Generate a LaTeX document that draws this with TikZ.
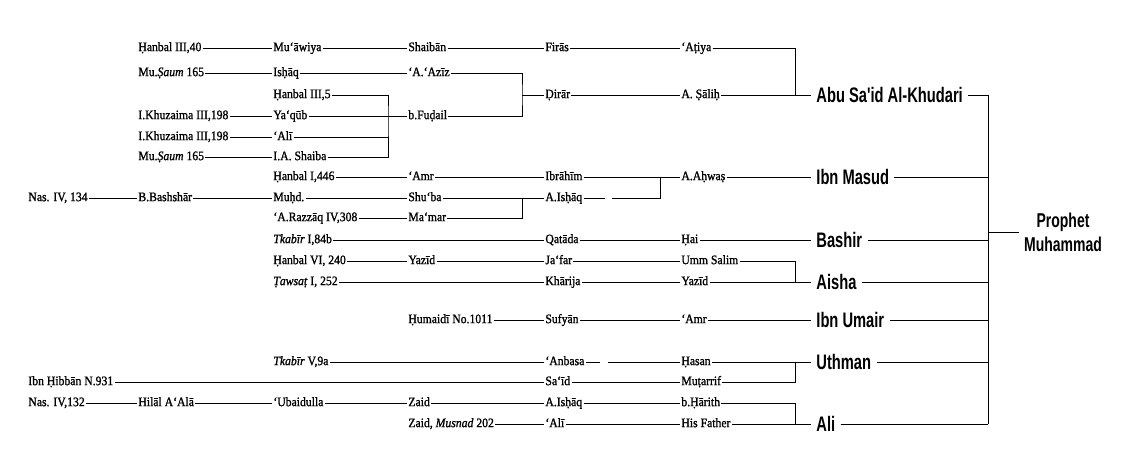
\documentclass[tikz,border=0pt]{standalone}
\usepackage{fontspec}
\setmainfont{Liberation Serif}[FakeStretch=0.9, FakeBold=1.2]
\newfontfamily\labelfont[FakeStretch=0.7]{Liberation Sans}
\usetikzlibrary{positioning}
\tikzset{
	narrator/.style={anchor=west, inner xsep=1pt, inner ysep=0pt,
		font=\fontsize{13}{15}\selectfont, text height=8pt, text depth=1.7pt}
}
\tikzset{
	companion/.style={anchor=west, inner xsep=5pt, inner ysep=0pt,
		font=\labelfont\bfseries\fontsize{21}{24}\selectfont, text height=15pt, text depth=0pt}
}

\begin{document}
\begin{tikzpicture}[x=1pt, y=-1pt, line width=0.8pt]
      \useasboundingbox (0,0) rectangle (1131,457);

      % chains ending with Abu Sa'id
      \node[narrator] (hanA) at (137,48) {Ḥanbal III,40};
      \node[narrator] (muawiya) at (272,48) {Mu‘āwiya};
      \node[narrator] (shaiban) at (407,48) {Shaibān};
      \node[narrator] (firas) at (544,48) {Firās};
      \node[narrator] (atiya) at (680,48) {‘Aṭiya};
      \node[narrator] (saumA) at (137,73) {Mu.\textit{Ṣaum} 165};
      \node[narrator] (ishaqA) at (272,73) {Isḥāq};
      \node[narrator] (aziz) at (407,73) {‘A.‘Azīz};
      \node[narrator] (hanB) at (272,95) {Ḥanbal III,5};
      \node[narrator] (dirar) at (544,95) {Ḍirār};
      \node[narrator] (salih) at (680,95) {A. Ṣāliḥ};
      \node[narrator] (khuzA) at (137,116) {I.Khuzaima III,198};
      \node[narrator] (yaqub) at (272,116) {Ya‘qūb};
      \node[narrator] (fudail) at (407,116) {b.Fuḍail};
      \node[narrator] (khuzB) at (137,137) {I.Khuzaima III,198};
      \node[narrator] (aliA) at (272,137) {‘Alī};
      \node[narrator] (saumB) at (137,157) {Mu.\textit{Ṣaum} 165};
      \node[narrator] (shaiba) at (272,157) {I.A. Shaiba};

      % chains ending with Ibn Masud
      \node[narrator] (hanC) at (272,177) {Ḥanbal I,446};
      \node[narrator] (amrA) at (407,177) {‘Amr};
      \node[narrator] (ibrahim) at (544,177) {Ibrāhīm};
      \node[narrator] (ahwas) at (680,177) {A.Aḥwaṣ};
      \node[narrator] (nasA) at (27,198) {Nas. IV, 134};
      \node[narrator] (bashshar) at (137,198) {B.Bashshār};
      \node[narrator] (muhd) at (272,198) {Muḥd.};
      \node[narrator] (shuba) at (407,198) {Shu‘ba};
      \node[narrator] (ishaqB) at (544,198) {A.Isḥāq};
      \node[narrator] (razzaq) at (272,218) {‘A.Razzāq IV,308};
      \node[narrator] (mamar) at (407,218) {Ma‘mar};

      % Bashir and Aisha
      \node[narrator] (tkabA) at (272,240) {\textit{Tkabīr} I,84b};
      \node[narrator] (qatada) at (544,240) {Qatāda};
      \node[narrator] (hai) at (680,240) {Ḥai};
      \node[narrator] (hanD) at (272,261) {Ḥanbal VI, 240};
      \node[narrator] (yazidA) at (407,261) {Yazīd};
      \node[narrator] (jafar) at (544,261) {Ja‘far};
      \node[narrator] (salim) at (680,261) {Umm Salim};
      \node[narrator] (tawsat) at (272,282) {\textit{Ṭawsaṭ} I, 252};
      \node[narrator] (kharija) at (544,282) {Khārija};
      \node[narrator] (yazidB) at (680,282) {Yazīd};

      % Ibn Umair, Uthman and Ali
      \node[narrator] (humaidi) at (407,320) {Ḥumaidī No.1011};
      \node[narrator] (sufyan) at (544,320) {Sufyān};
      \node[narrator] (amrB) at (680,320) {‘Amr};
      \node[narrator] (tkabB) at (272,362) {\textit{Tkabīr} V,9a};
      \node[narrator] (anbasa) at (544,362) {‘Anbasa};
      \node[narrator] (hasan) at (680,362) {Ḥasan};
      \node[narrator] (hibban) at (27,382) {Ibn Ḥibbān N.931};
      \node[narrator] (said) at (544,382) {Sa‘īd};
      \node[narrator] (mutarrif) at (680,382) {Muṭarrif};
      \node[narrator] (nasB) at (27,403) {Nas. IV,132};
      \node[narrator] (hilal) at (137,403) {Hilāl A‘Alā};
      \node[narrator] (ubaid) at (272,403) {‘Ubaidulla};
      \node[narrator] (zaid) at (407,403) {Zaid};
      \node[narrator] (ishaqC) at (544,403) {A.Isḥāq};
      \node[narrator] (harith) at (680,403) {b.Ḥārith};
      \node[narrator] (musnad) at (407,424) {Zaid, \textit{Musnad} 202};
      \node[narrator] (aliB) at (544,424) {‘Alī};
      \node[narrator] (father) at (680,424) {His Father};

      % companions
      \node[companion] (abu) at (811,95) {Abu Sa'id Al-Khudari};
      \node[companion] (masud) at (811,177) {Ibn Masud};
      \node[companion] (bashir) at (811,240) {Bashir};
      \node[companion] (aisha) at (811,282) {Aisha};
      \node[companion] (umair) at (811,320) {Ibn Umair};
      \node[companion] (uthman) at (811,362) {Uthman};
      \node[companion] (ali) at (811,424) {Ali};
      \node[companion, anchor=center, align=center, text height=, font=\labelfont\bfseries\fontsize{20}{24}\selectfont]
        (prophet) at (1063,232) {Prophet\\Muhammad};

      % straight links along each row
      \foreach \a/\b in {hanA/muawiya, muawiya/shaiban, shaiban/firas, firas/atiya,
          saumA/ishaqA, ishaqA/aziz, khuzA/yaqub, yaqub/fudail, khuzB/aliA, saumB/shaiba,
          dirar/salih, salih/abu, hanC/amrA, amrA/ibrahim, ibrahim/ahwas, ahwas/masud,
          nasA/bashshar, bashshar/muhd, muhd/shuba, shuba/ishaqB, razzaq/mamar,
          tkabA/qatada, qatada/hai, hai/bashir, hanD/yazidA, yazidA/jafar, jafar/salim,
          tawsat/kharija, kharija/yazidB, yazidB/aisha, humaidi/sufyan, sufyan/amrB,
          amrB/umair, tkabB/anbasa, hasan/uthman, hibban/said, said/mutarrif,
          nasB/hilal, hilal/ubaid, ubaid/zaid, zaid/ishaqC, ishaqC/harith,
          musnad/aliB, aliB/father, father/ali} {
        \draw (\a.east) -- (\b.west);
      }

      % brackets joining chains
      \coordinate (jleft) at (388,116);
      \draw (hanB.east) -| (jleft) |- (shaiba.east);
      \draw (aliA.east) -- (aliA.east -| jleft);
      \coordinate (jdirar) at (522,95);
      \draw (aziz.east) -| (jdirar) |- (fudail.east);
      \draw (jdirar) -- (dirar.west);
      \coordinate (jabu) at (795,95);
      \draw (atiya.east) -| (jabu);
      \coordinate (jishaq) at (522,198);
      \draw (mamar.east) -| (jishaq);
      \coordinate (gapA) at (605,198);
      \coordinate (gapB) at (612,198);
      \coordinate (jahwas) at (660,177);
      \draw (ishaqB.east) -- (gapA);
      \draw (gapB) -| (jahwas);
      \coordinate (jaisha) at (795,282);
      \draw (salim.east) -| (jaisha);
      \coordinate (gapC) at (600,362);
      \coordinate (gapD) at (608,362);
      \draw (anbasa.east) -- (gapC);
      \draw (gapD) -- (hasan.west);
      \coordinate (juthman) at (795,362);
      \draw (mutarrif.east) -| (juthman);
      \coordinate (jali) at (795,424);
      \draw (harith.east) -| (jali);

      % spine to the Prophet
      \coordinate (spinetop) at (988,95);
      \coordinate (spinebot) at (988,424);
      \draw (spinetop) -- (spinebot);
      \foreach \c in {abu, masud, bashir, aisha, umair, uthman, ali} {
        \draw (\c.east) -- (\c.east -| spinetop);
      }
      \draw (prophet.west) -- (prophet.west -| spinetop);
    \end{tikzpicture}
\end{document}
